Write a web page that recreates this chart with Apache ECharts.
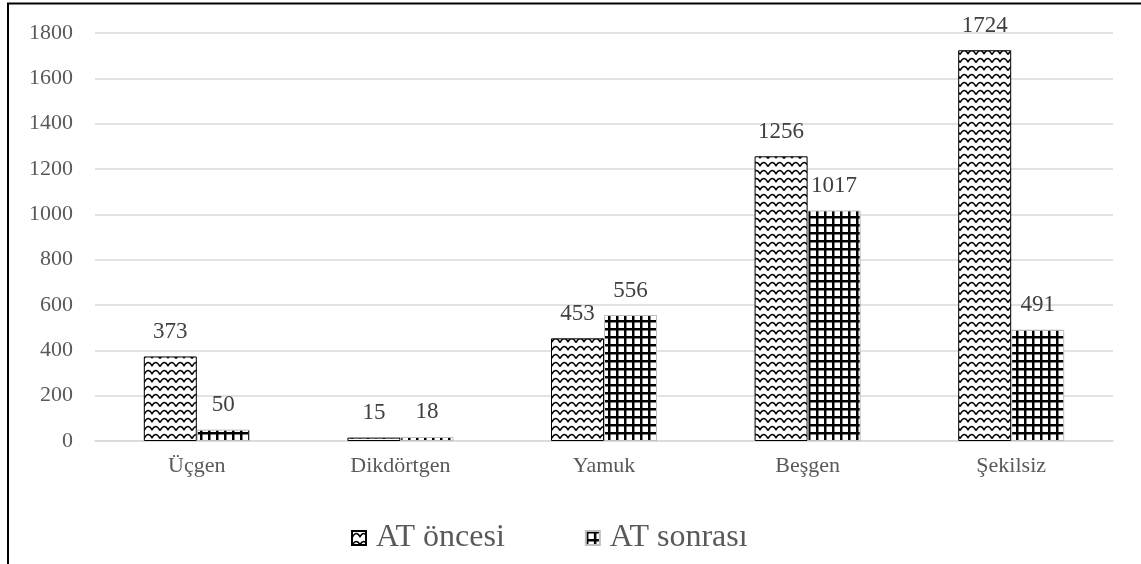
<!DOCTYPE html>
<html><head><meta charset="utf-8">
<script src="https://cdn.jsdelivr.net/npm/echarts@6/dist/echarts.min.js"></script>
<style>html,body{margin:0;padding:0;background:#fff}#c{width:1141px;height:564px}</style>
</head><body><div id="c"></div>
<script>
const categories = ['Üçgen', 'Dikdörtgen', 'Yamuk', 'Beşgen', 'Şekilsiz'];
const seriesNames = ['AT öncesi', 'AT sonrası'];
const before = [373, 15, 453, 1256, 1724];
const after = [50, 18, 556, 1017, 491];
const yTicks = [0, 200, 400, 600, 800, 1000, 1200, 1400, 1600, 1800];

function wavePattern() {
  const c = document.createElement('canvas');
  c.width = 16; c.height = 8;
  const g = c.getContext('2d');
  g.fillStyle = '#fff'; g.fillRect(0, 0, 16, 8);
  g.strokeStyle = '#000'; g.lineWidth = 1.6;
  g.beginPath();
  g.moveTo(0, 6.5);
  g.quadraticCurveTo(4, -1, 8, 5.5);
  g.quadraticCurveTo(12, -1, 16, 6.5);
  g.stroke();
  return c;
}
function gridPattern() {
  const c = document.createElement('canvas');
  c.width = 8; c.height = 8;
  const g = c.getContext('2d');
  g.fillStyle = '#fff'; g.fillRect(0, 0, 8, 8);
  g.fillStyle = '#000';
  g.fillRect(0, 0, 2.5, 8);
  g.fillRect(0, 0, 8, 2.5);
  return c;
}
const wave = { image: wavePattern(), repeat: 'repeat' };
const grid = { image: gridPattern(), repeat: 'repeat' };

const chart = echarts.init(document.getElementById('c'));
const labelStyle = { show: true, position: 'top', distance: 13, color: '#404040', fontFamily: 'Liberation Serif', fontSize: 23 };
chart.setOption({
  animation: false,
  graphic: [{ type: 'polyline', shape: { points: [[8, 564], [8, 3.5], [1141, 3.5]] }, style: { stroke: '#000', lineWidth: 2, fill: null } }],
  grid: { left: 95, right: 28, top: 33, bottom: 123 },
  legend: {
    bottom: 5, left: 346, itemWidth: 14, itemHeight: 14, itemGap: 80, icon: 'rect',
    textStyle: { fontFamily: 'Liberation Serif', fontSize: 32, color: '#595959', padding: [0, 0, 0, 5] },
    data: seriesNames
  },
  xAxis: {
    type: 'category', data: categories,
    axisLine: { lineStyle: { color: '#d9d9d9', width: 1.5 } },
    axisTick: { show: false },
    axisLabel: { color: '#595959', fontFamily: 'Liberation Serif', fontSize: 22, margin: 14 }
  },
  yAxis: {
    type: 'value', min: yTicks[0], max: yTicks[yTicks.length - 1], interval: yTicks[1] - yTicks[0],
    axisLine: { show: false }, axisTick: { show: false },
    splitLine: { lineStyle: { color: '#d9d9d9', width: 1.5 } },
    axisLabel: { color: '#595959', fontFamily: 'Liberation Serif', fontSize: 22, margin: 22, formatter: v => String(v) }
  },
  series: [
    { name: seriesNames[0], type: 'bar', data: before, barWidth: 53, barGap: '0%',
      itemStyle: { color: wave, borderColor: '#000', borderWidth: 1 }, label: labelStyle },
    { name: seriesNames[1], type: 'bar', data: after, barWidth: 53, barGap: '0%',
      itemStyle: { color: grid, borderColor: '#bfbfbf', borderWidth: 1 }, label: labelStyle }
  ]
});
</script></body></html>
